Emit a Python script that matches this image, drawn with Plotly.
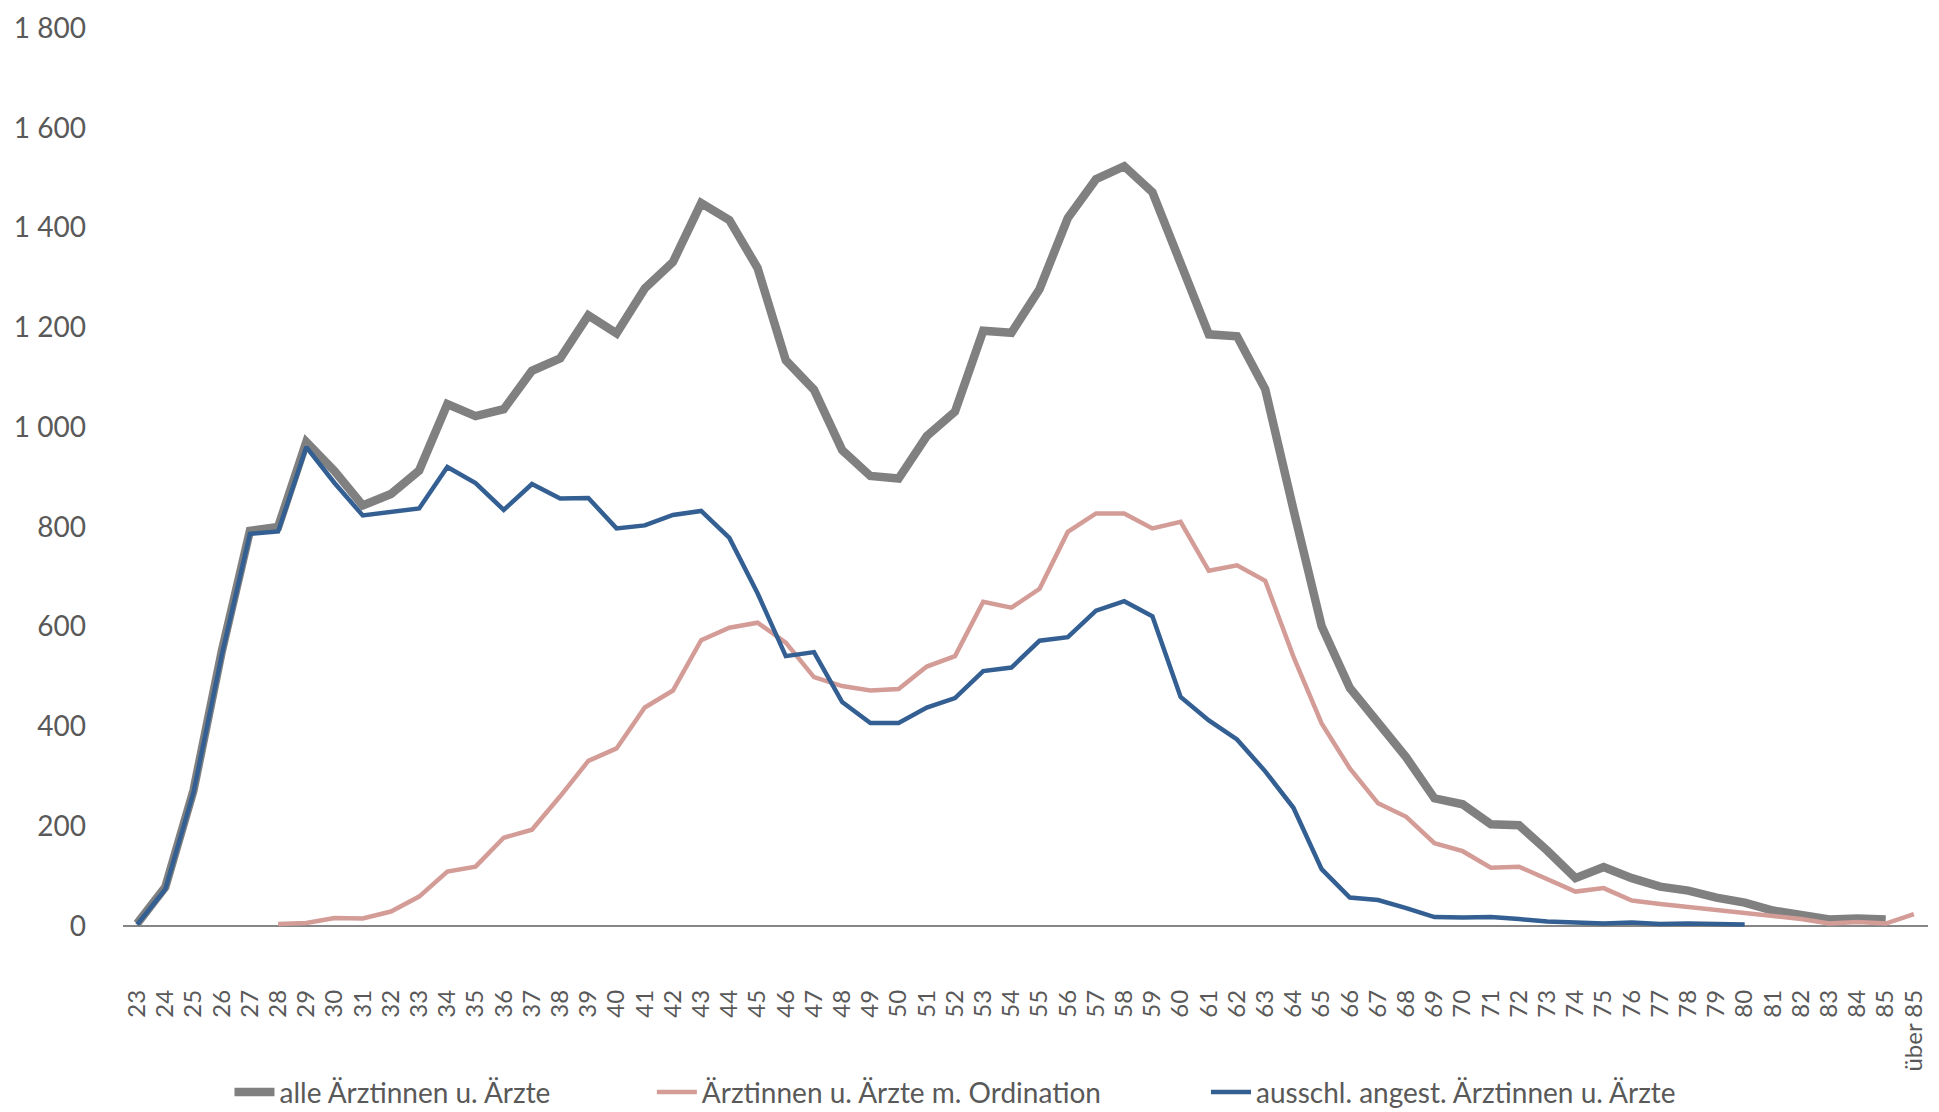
import plotly.graph_objects as go

ages = [str(a) for a in range(23, 86)] + ["über 85"]

alle = [5, 78, 272, 550, 792, 800, 970, 912, 843, 866, 913, 1046, 1022, 1036, 1113, 1138,
        1224, 1188, 1278, 1331, 1449, 1415, 1319, 1134, 1075, 954, 902, 897, 982, 1031,
        1193, 1189, 1277, 1419, 1497, 1523, 1471, 1324, 1186, 1182, 1076, 835, 601, 477,
        410, 338, 256, 244, 204, 202, 151, 96, 118, 96, 79, 71, 57, 47, 31, 24, 13, 15, 13, None]

ordination = [None, None, None, None, None, 4, 6, 16, 15, 29, 59, 109, 119, 177, 193, 260,
              331, 356, 438, 472, 573, 598, 608, 568, 499, 481, 472, 475, 520, 541,
              650, 638, 676, 790, 827, 827, 797, 810, 712, 723, 692, 540, 406, 316,
              246, 219, 166, 150, 117, 119, 93, 69, 76, 51, 44, 38, 32, 27, 21, 14, 5, 8, 5, 24]

angestellt = [3, 74, 268, 543, 786, 791, 960, 888, 823, 829, 837, 920, 888, 834, 886, 857,
              858, 797, 803, 824, 832, 778, 667, 541, 549, 449, 407, 407, 438, 457,
              511, 518, 572, 579, 632, 651, 621, 459, 412, 374, 310, 237, 114, 57,
              52, 36, 18, 17, 18, 14, 9, 7, 5, 7, 4, 5, 4, 3, None, None, None, None, None, None]

names = ["alle Ärztinnen u. Ärzte", "Ärztinnen u. Ärzte m. Ordination",
         "ausschl. angest. Ärztinnen u. Ärzte"]
colors = ["#808080", "#D49C97", "#335F92"]
widths = [8.5, 4.5, 4.5]
legend_ids = ["legend", "legend2", "legend3"]

fig = go.Figure()
for vals, name, col, w, lg in zip([alle, ordination, angestellt], names, colors, widths, legend_ids):
    fig.add_trace(go.Scatter(x=ages, y=vals, name=name, mode="lines",
                             line=dict(color=col, width=w, shape="linear"),
                             connectgaps=False, legend=lg))

legend_font = dict(size=28, color="#595959", family="Lato")
def leg(x):
    return dict(orientation="h", x=x, xanchor="left", y=-0.172, yanchor="middle",
                font=legend_font, itemwidth=40)

fig.update_layout(
    width=1939, height=1112,
    margin=dict(l=115, r=19, t=20, b=184, autoexpand=False),
    paper_bgcolor="white", plot_bgcolor="white",
    font=dict(family="Lato", size=28, color="#595959"),
    separators=", ",
    showlegend=True,
    legend=leg(0.059),
    legend2=leg(0.293),
    legend3=leg(0.600),
)
fig.update_xaxes(type="category", range=[-0.5, 63.5], showgrid=False, showline=False,
                 zeroline=False, tickangle=-90, ticks="", ticklabelstandoff=48,
                 tickmode="linear", dtick=1, automargin=False,
                 tickfont=dict(size=24, color="#595959"))
fig.update_yaxes(range=[-20, 1800], tickvals=[0, 200, 400, 600, 800, 1000, 1200, 1400, 1600, 1800],
                 tickformat=",d", showgrid=False, showline=False, ticks="",
                 zeroline=True, zerolinecolor="#868686", zerolinewidth=2, automargin=False,
                 ticklabelstandoff=36, tickfont=dict(size=28, color="#595959"))

fig.write_html("out.html")
